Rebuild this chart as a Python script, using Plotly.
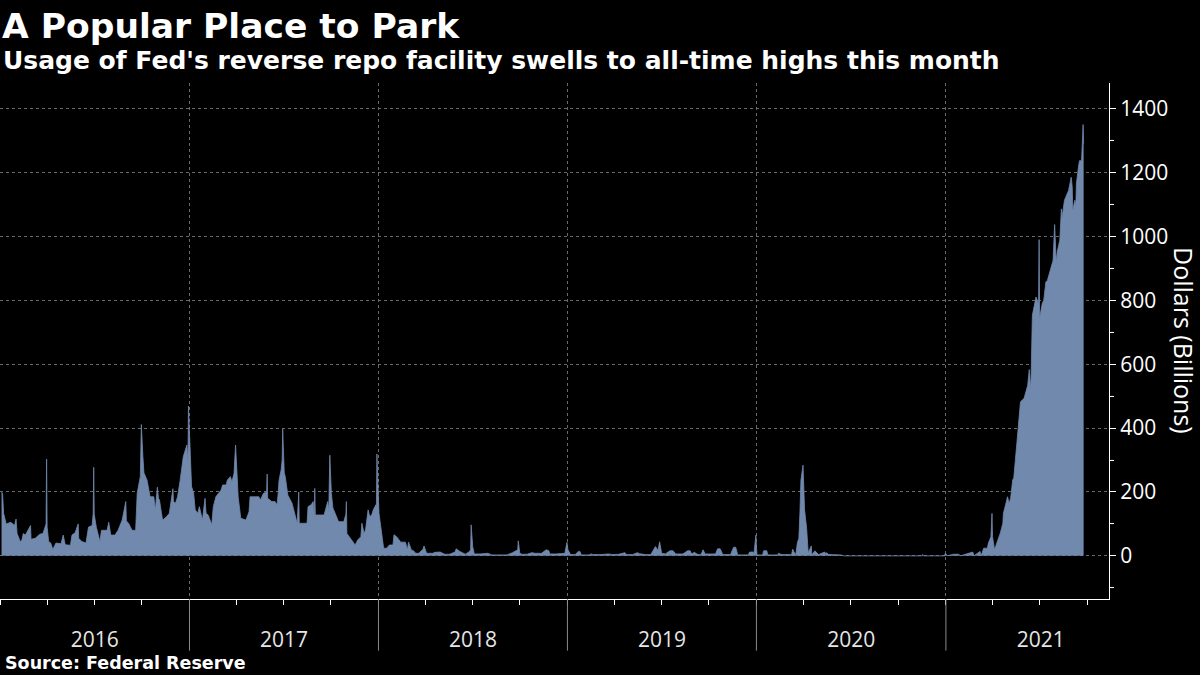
import plotly.graph_objects as go

# ---- data (billions of dollars) ----
dates_2016 = ["2016-01-04","2016-01-06","2016-01-08","2016-01-13","2016-01-22","2016-01-29","2016-02-01","2016-02-03",
              "2016-02-09","2016-02-12","2016-02-15","2016-02-19","2016-02-29","2016-03-01","2016-03-09","2016-03-18",
              "2016-03-24","2016-03-30","2016-03-31","2016-04-01","2016-04-04","2016-04-08","2016-04-12","2016-04-18",
              "2016-04-28","2016-05-02","2016-05-06","2016-05-16","2016-05-19","2016-05-25","2016-05-31","2016-06-01",
              "2016-06-07","2016-06-15","2016-06-20","2016-06-27","2016-06-29","2016-06-30","2016-07-01","2016-07-05",
              "2016-07-12","2016-07-15","2016-07-26","2016-07-29","2016-08-02","2016-08-10","2016-08-16","2016-08-24",
              "2016-08-31","2016-09-01","2016-09-06","2016-09-12","2016-09-19","2016-09-22","2016-09-28","2016-09-29",
              "2016-09-30","2016-10-03","2016-10-05","2016-10-11","2016-10-17","2016-10-24","2016-10-27","2016-10-31",
              "2016-11-02","2016-11-04","2016-11-10","2016-11-18","2016-11-23","2016-11-30","2016-12-01","2016-12-05",
              "2016-12-09","2016-12-14","2016-12-20","2016-12-27","2016-12-29","2016-12-30"]
values_2016 = [200,195,133,100,105,95,115,70,
               45,48,70,65,95,52,55,68,
               70,100,303,90,45,40,20,40,
               38,65,35,33,65,72,100,55,
               45,40,90,95,133,277,130,90,
               45,80,80,105,65,65,80,112,
               170,110,100,80,80,196,248,300,
               411,310,260,237,185,185,144,215,
               180,175,112,123,133,210,170,165,
               185,237,310,347,290,469]

dates_2017 = ["2017-01-03","2017-01-05","2017-01-09","2017-01-12","2017-01-17","2017-01-20","2017-01-26","2017-01-31",
              "2017-02-02","2017-02-06","2017-02-13","2017-02-16","2017-02-21","2017-02-28","2017-03-03","2017-03-06",
              "2017-03-13","2017-03-15","2017-03-21","2017-03-24","2017-03-28","2017-03-31","2017-04-03","2017-04-05",
              "2017-04-10","2017-04-17","2017-04-20","2017-04-26","2017-04-28","2017-05-03","2017-05-09","2017-05-15",
              "2017-05-18","2017-05-24","2017-05-30","2017-05-31","2017-06-01","2017-06-09","2017-06-15","2017-06-19",
              "2017-06-21","2017-06-23","2017-06-27","2017-06-29","2017-06-30","2017-07-03","2017-07-05","2017-07-10",
              "2017-07-18","2017-07-24","2017-07-28","2017-07-31","2017-08-01","2017-08-10","2017-08-16","2017-08-18",
              "2017-08-24","2017-08-28","2017-08-30","2017-08-31","2017-09-01","2017-09-11","2017-09-18","2017-09-25",
              "2017-09-27","2017-09-29","2017-10-02","2017-10-05","2017-10-10","2017-10-16","2017-10-26","2017-10-30",
              "2017-10-31","2017-11-01","2017-11-10","2017-11-17","2017-11-22","2017-11-28","2017-11-30","2017-12-04",
              "2017-12-07","2017-12-12","2017-12-15","2017-12-19","2017-12-22","2017-12-27","2017-12-28","2017-12-29"]
values_2017 = [280,217,196,144,133,154,112,180,
               133,128,97,154,185,200,206,222,
               222,237,248,232,258,347,270,185,
               118,112,112,138,185,185,185,185,
               175,196,200,256,180,170,170,160,
               190,237,269,300,397,260,248,190,
               165,123,102,200,102,102,102,154,
               160,170,128,211,128,128,128,170,
               140,315,196,150,128,107,107,130,
               170,70,50,34,50,60,102,71,
               81,144,123,128,144,160,150,319]

dates_2018 = ["2018-01-02","2018-01-08","2018-01-11","2018-01-17","2018-01-22","2018-01-29","2018-01-31","2018-02-05",
              "2018-02-09","2018-02-13","2018-02-22","2018-02-26","2018-02-28","2018-03-06","2018-03-09","2018-03-14",
              "2018-03-20","2018-03-28","2018-03-30","2018-04-04","2018-04-16","2018-04-20","2018-04-30","2018-05-09",
              "2018-05-18","2018-05-24","2018-05-29","2018-05-31","2018-06-07","2018-06-18","2018-06-26","2018-06-28",
              "2018-06-29","2018-07-02","2018-07-05","2018-07-16","2018-07-24","2018-07-31","2018-08-08","2018-08-24",
              "2018-09-06","2018-09-17","2018-09-21","2018-09-27","2018-09-28","2018-10-01","2018-10-05","2018-10-15",
              "2018-10-24","2018-10-31","2018-11-12","2018-11-21","2018-11-26","2018-11-28","2018-12-10","2018-12-19",
              "2018-12-27","2018-12-31"]
values_2018 = [133,60,24,24,34,34,66,60,
               50,43,43,19,43,17,17,8,
               8,21,31,8,8,11,12,5,
               5,10,12,22,14,5,14,20,
               97,29,6,6,8,8,3,3,
               3,10,14,19,47,8,5,5,
               10,8,8,19,16,6,6,6,
               8,42]

dates_2019 = ["2019-01-02","2019-01-07","2019-01-16","2019-01-22","2019-01-25","2019-01-28","2019-02-12","2019-02-15",
              "2019-02-20","2019-03-06","2019-03-21","2019-03-29","2019-04-10","2019-04-22","2019-04-25","2019-05-07",
              "2019-05-16","2019-05-20","2019-05-31","2019-06-11","2019-06-17","2019-06-20","2019-06-25","2019-06-28",
              "2019-07-02","2019-07-09","2019-07-18","2019-07-24","2019-07-29","2019-08-12","2019-08-21","2019-08-26",
              "2019-08-29","2019-09-03","2019-09-10","2019-09-16","2019-09-20","2019-09-24","2019-10-04","2019-10-14",
              "2019-10-18","2019-10-23","2019-10-28","2019-11-12","2019-11-18","2019-11-22","2019-11-26","2019-12-16",
              "2019-12-19","2019-12-26","2019-12-27","2019-12-31"]
values_2019 = [19,4,4,14,14,3,3,6,
               4,4,6,4,5,10,4,4,
               10,7,4,4,24,29,17,44,
               8,6,16,16,6,6,16,16,
               6,11,4,4,19,6,6,6,
               22,22,4,4,27,27,3,3,
               12,12,3,65]

dates_2020 = ["2020-01-02","2020-01-13","2020-01-15","2020-01-21","2020-01-23","2020-02-11","2020-02-13","2020-02-18",
              "2020-03-09","2020-03-11","2020-03-13","2020-03-17","2020-03-20","2020-03-23","2020-03-25","2020-03-26",
              "2020-03-27","2020-03-31","2020-04-01","2020-04-03","2020-04-07","2020-04-10","2020-04-16","2020-04-17",
              "2020-04-23","2020-04-28","2020-04-30","2020-05-12","2020-05-14","2020-05-15","2020-05-20","2020-06-12",
              "2020-06-18","2020-11-16","2020-11-17","2020-11-19","2020-12-29","2020-12-31"]
values_2020 = [3,3,16,16,3,3,8,4,
               4,21,14,3,40,55,133,206,
               237,284,237,144,86,10,31,3,
               16,8,4,12,4,10,4,3,
               0,0,4,0,0,8]

dates_2021 = ["2021-01-04","2021-01-15","2021-01-26","2021-01-29","2021-02-22","2021-02-24","2021-03-08","2021-03-10",
              "2021-03-15","2021-03-22","2021-03-24","2021-03-29","2021-03-31","2021-04-01","2021-04-05","2021-04-08",
              "2021-04-12","2021-04-16","2021-04-21","2021-04-22","2021-04-27","2021-04-30","2021-05-03","2021-05-06",
              "2021-05-10","2021-05-12","2021-05-18","2021-05-21","2021-05-25","2021-06-01","2021-06-04","2021-06-08",
              "2021-06-11","2021-06-14","2021-06-17","2021-06-21","2021-06-24","2021-06-29","2021-06-30","2021-07-01",
              "2021-07-06","2021-07-09","2021-07-13","2021-07-16","2021-07-21","2021-07-27","2021-07-30","2021-08-02",
              "2021-08-04","2021-08-09","2021-08-12","2021-08-13","2021-08-18","2021-08-23","2021-08-26","2021-08-31",
              "2021-09-02","2021-09-03","2021-09-07","2021-09-09","2021-09-10","2021-09-14","2021-09-16","2021-09-20",
              "2021-09-21","2021-09-22","2021-09-23","2021-09-24"]
values_2021 = [0,5,5,0,12,0,14,0,
               24,24,40,60,133,60,19,34,
               50,71,102,133,165,185,165,180,
               238,243,352,399,482,493,508,534,
               583,519,753,790,810,790,990,743,
               790,800,857,862,894,925,1037,920,
               951,988,1086,1055,1113,1133,1144,1185,
               1154,1081,1113,1097,1164,1217,1237,1237,
               1279,1300,1350,1290]

year_starts = ["2017-01-01", "2018-01-01", "2019-01-01", "2020-01-01", "2021-01-01"]

title_text = "A Popular Place to Park"
subtitle_text = "Usage of Fed's reverse repo facility swells to all-time highs this month"
source_text = "Source: Federal Reserve"
y_title = "Dollars (Billions)"

dates = dates_2016 + dates_2017 + dates_2018 + dates_2019 + dates_2020 + dates_2021
values = values_2016 + values_2017 + values_2018 + values_2019 + values_2020 + values_2021

FILL = "#7189ad"
GRID = "#6a6a6a"
TOP = 83       # plot top in px
BOTTOM = 599   # plot bottom in px
RIGHT = 1109   # plot right edge in px

fig = go.Figure()
fig.add_trace(go.Scatter(
    x=dates, y=values, mode="lines", fill="tozeroy",
    line=dict(color=FILL, width=0.8), fillcolor=FILL,
    hoverinfo="x+y", showlegend=False,
))

shapes = []
for d in year_starts:
    shapes.append(dict(type="line", xref="x", yref="paper", x0=d, x1=d, y0=-0.1, y1=0,
                       line=dict(color="#8a8a8a", width=1)))

fig.update_layout(
    width=1200, height=675,
    paper_bgcolor="black", plot_bgcolor="black",
    margin=dict(l=0, r=1200 - RIGHT, t=TOP, b=675 - BOTTOM),
    font=dict(family="Open Sans, Noto Sans, sans-serif", color="white"),
    shapes=shapes,
    xaxis=dict(
        type="date",
        range=["2016-01-01", "2021-11-12"],
        tick0="2016-01-01", dtick="M12",
        tickformat="%Y",
        ticklabelmode="period",
        ticks="outside", ticklen=5, tickcolor="white", tickwidth=1,
        ticklabelstandoff=17,
        tickfont=dict(size=21, color="#e6e6e6"),
        showline=True, linecolor="white", linewidth=1,
        showgrid=True, gridcolor=GRID, griddash="dot", gridwidth=1,
        minor=dict(dtick="M3", tick0="2016-01-01", ticks="outside", ticklen=5,
                   tickcolor="white", showgrid=False),
        zeroline=False, fixedrange=True,
    ),
    yaxis=dict(
        side="right",
        range=[-135, 1480],
        tick0=0, dtick=200,
        ticks="outside", ticklen=6, tickcolor="white",
        tickfont=dict(size=21, color="white"),
        showline=True, linecolor="white", linewidth=1,
        showgrid=True, gridcolor=GRID, griddash="dot", gridwidth=1,
        minor=dict(dtick=100, ticks="outside", ticklen=4, tickcolor="white", showgrid=False),
        zeroline=False, fixedrange=True,
    ),
    annotations=[
        dict(text=title_text, xref="paper", yref="paper", x=0.0, xanchor="left", xshift=0,
             y=1.0, yshift=TOP - 26, yanchor="middle", showarrow=False,
             font=dict(family="DejaVu Sans", size=34.5, color="white", weight="bold")),
        dict(text=subtitle_text, xref="paper", yref="paper", x=0.0, xanchor="left", xshift=1,
             y=1.0, yshift=TOP - 60, yanchor="middle", showarrow=False,
             font=dict(family="DejaVu Sans", size=25, color="white", weight="bold")),
        dict(text=source_text, xref="paper", yref="paper", x=0.0, xanchor="left", xshift=3,
             y=0.0, yshift=-(663 - BOTTOM), yanchor="middle", showarrow=False,
             font=dict(family="DejaVu Sans", size=17.5, color="white", weight="bold")),
        dict(text=y_title, xref="paper", yref="paper", x=1.0, xshift=1184 - RIGHT,
             xanchor="center", y=0.5, yshift=1, yanchor="middle", textangle=90, showarrow=False,
             font=dict(family="Open Sans, Noto Sans, sans-serif", size=25, color="white")),
    ],
)

fig.write_html("out.html", config={"displayModeBar": False},
               post_script="document.body.style.margin='0px';document.body.style.overflow='hidden';")
